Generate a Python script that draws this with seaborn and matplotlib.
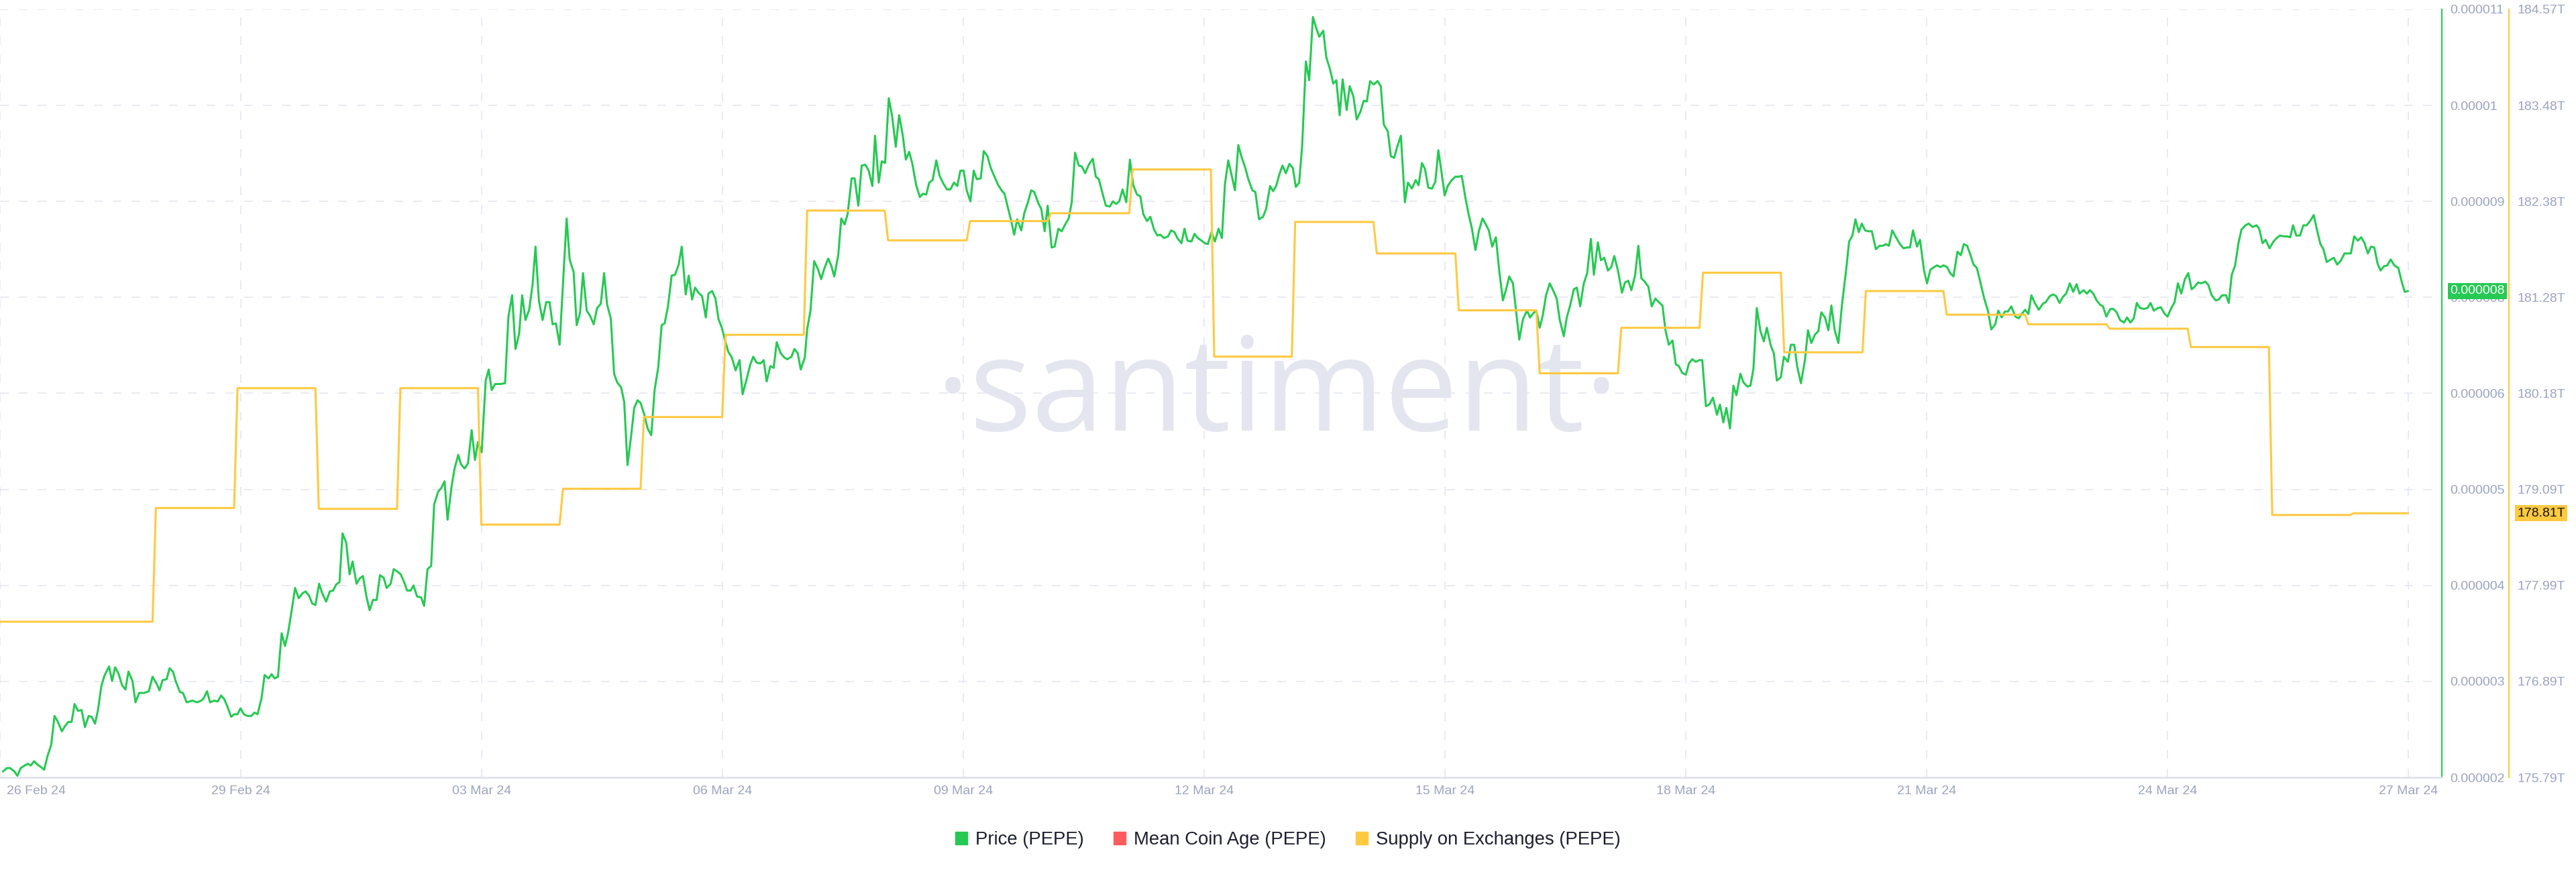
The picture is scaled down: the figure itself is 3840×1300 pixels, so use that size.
import matplotlib
matplotlib.use("Agg")
import matplotlib.pyplot as plt
import matplotlib.dates as mdates
import matplotlib.transforms as mtransforms
from matplotlib.patches import Patch
import seaborn as sns
import numpy as np
import pandas as pd

start = pd.Timestamp("2024-02-26")

# hours since 26 Feb 24 00:00
price_hours = [
    0.9, 2.1, 3.0, 4.3, 5.2, 6.2, 7.4, 8.3, 9.2, 10.2,
    11.2, 12.3, 13.2, 14.2, 15.3, 16.3, 17.2, 18.5, 19.4, 20.4,
    21.4, 22.3, 23.3, 24.4, 25.4, 26.5, 27.4, 28.4, 29.3, 30.3,
    31.2, 32.6, 33.5, 34.4, 35.4, 36.5, 37.5, 38.4, 39.6, 40.5,
    41.6, 43.1, 44.5, 45.6, 46.8, 47.7, 48.6, 49.8, 50.7, 51.7,
    52.6, 53.8, 54.7, 55.8, 57.5, 58.9, 60.2, 60.9, 61.9, 62.8,
    64.0, 65.1, 66.1, 67.0, 68.0, 69.1, 70.0, 71.0, 71.9, 72.9,
    74.0, 75.1, 76.1, 77.0, 78.2, 79.1, 80.3, 81.2, 82.1, 83.1,
    84.2, 85.2, 86.1, 87.1, 88.2, 89.3, 90.5, 91.4, 92.4, 93.3,
    94.3, 95.4, 96.3, 97.5, 98.6, 99.6, 100.5, 101.5, 102.4, 103.5,
    104.5, 105.4, 106.6, 107.5, 108.5, 109.6, 110.5, 111.5, 112.6, 113.6,
    114.7, 115.6, 116.8, 117.7, 118.9, 119.8, 120.8, 121.7, 122.8, 123.6,
    124.7, 125.9, 126.8, 127.8, 128.9, 129.8, 131.0, 131.9, 132.9, 133.8,
    135.0, 135.9, 137.0, 137.8, 138.9, 139.9, 141.0, 142.0, 142.9, 144.0,
    145.2, 146.1, 147.0, 148.0, 149.6, 151.0, 152.0, 153.1, 154.1, 155.2,
    156.1, 157.1, 158.2, 159.2, 160.1, 161.1, 162.2, 163.3, 164.3, 165.2,
    166.2, 167.3, 168.2, 169.4, 170.3, 171.5, 172.4, 173.4, 174.3, 175.4,
    176.4, 177.5, 178.5, 179.6, 180.6, 181.5, 182.6, 183.6, 184.5, 185.7,
    186.6, 187.6, 188.7, 189.6, 190.6, 191.5, 192.7, 193.6, 194.7, 195.7,
    196.8, 197.8, 198.7, 199.7, 200.8, 201.8, 202.9, 203.8, 205.0, 205.9,
    206.9, 207.8, 208.8, 209.9, 211.0, 211.8, 212.9, 213.9, 214.8, 215.8,
    216.7, 217.7, 218.8, 219.9, 221.1, 222.0, 223.1, 224.3, 225.2, 226.2,
    227.3, 228.3, 229.2, 230.3, 231.3, 232.2, 233.4, 234.5, 235.4, 236.6,
    237.5, 238.5, 239.4, 240.6, 241.3, 242.3, 243.4, 244.5, 245.5, 246.4,
    247.6, 248.5, 249.4, 250.6, 251.5, 252.5, 253.4, 254.6, 255.5, 256.6,
    257.6, 258.7, 259.7, 260.8, 261.6, 262.7, 263.6, 264.6, 265.7, 266.7,
    267.8, 268.8, 269.9, 270.8, 271.8, 272.7, 273.9, 275.0, 275.9, 276.9,
    277.8, 278.8, 279.9, 280.9, 282.0, 283.1, 284.1, 285.2, 286.2, 287.1,
    288.1, 289.0, 290.1, 291.1, 292.0,
    293.2, 294.1, 295.2, 296.2, 297.3, 298.3, 299.4, 300.3, 301.3, 302.2,
    303.2, 304.1, 305.3, 306.2, 307.3, 308.3, 309.2, 310.4, 311.3, 312.3,
    313.2, 314.4, 315.3, 316.4, 317.4, 318.3, 319.5, 320.4, 321.4, 322.5,
    323.4, 324.4, 325.5, 326.7, 327.6, 328.5, 329.7, 330.6, 331.8, 332.7,
    333.7, 334.6, 335.6, 336.7, 337.8, 338.8, 339.9, 340.9, 341.8, 342.9,
    343.9, 345.0, 346.0, 346.9, 348.0, 349.2, 350.1, 351.1, 352.0, 353.2,
    354.1, 355.0, 356.2, 357.1, 358.1, 359.2, 360.2, 361.1, 362.2, 363.2,
    364.3, 365.3, 366.2, 367.2, 368.3, 369.2, 370.2, 371.1, 372.3, 373.2,
    374.4, 375.3, 376.4, 377.6, 378.5, 379.7, 380.6, 381.5, 382.5, 383.4,
    384.4, 385.5, 386.5, 387.4, 388.4, 389.3, 390.4, 391.4, 392.5, 393.5,
    394.4, 395.6, 396.5, 397.6, 398.6, 399.5, 400.5, 401.4, 402.6, 403.5,
    404.6, 405.6, 406.7, 407.7, 408.6, 409.6, 410.7, 411.8, 412.8, 413.7,
    414.9, 415.8, 416.8, 417.7, 418.8, 420.0, 420.9, 422.1, 423.2, 424.1,
    425.1, 426.0, 427.0, 428.1, 429.1, 430.0, 431.0, 431.9, 432.8, 434.0,
    435.1, 436.2,
    437.0, 438.1, 439.1, 440.0, 441.1, 442.1, 443.2, 444.2, 445.1, 446.1,
    447.2, 448.2, 449.3, 450.2, 451.2, 452.3, 453.3, 454.2, 455.3, 456.5,
    457.4, 458.4, 459.3, 460.3, 461.2, 462.2, 463.3, 464.4, 465.4, 466.3,
    467.5, 468.4, 469.4, 470.5, 471.4, 472.4, 473.5, 474.5, 475.6, 476.5,
    477.7, 478.6, 479.6, 480.7, 481.7, 482.6, 483.7, 484.9, 485.8, 486.8,
    487.7, 488.8, 489.8, 490.7, 491.7, 492.8, 493.8, 494.9, 495.9, 497.0,
    497.9, 498.9, 500.0, 501.0, 501.9, 502.9, 504.0, 504.9, 505.9, 507.0,
    508.0, 508.9, 510.0, 511.0, 512.1, 513.3, 514.2, 515.2, 516.1, 517.2,
    518.2, 519.1, 520.3, 521.2, 522.4, 523.3, 524.2, 525.2, 526.3, 527.3,
    528.2, 529.4, 530.3, 531.2, 532.4, 533.3, 534.5, 535.4, 536.4, 537.3,
    538.4, 539.6, 540.5, 541.5, 542.6, 543.6, 544.5, 545.6, 546.6, 547.5,
    548.5, 549.6, 550.7, 551.9, 552.8, 553.8, 554.7, 555.7, 556.6, 557.6,
    558.5, 559.6, 560.8, 561.9, 562.9, 563.8, 564.7, 565.7, 566.8, 568.0,
    569.1, 570.0, 571.0, 571.9, 573.1, 574.0, 575.2, 576.1, 577.1, 578.2,
    579.1, 580.1, 581.0,
    582.1, 583.0, 584.0, 585.2, 586.2, 587.1, 588.1, 589.1, 590.0, 591.0,
    592.0, 593.2, 594.3, 595.3, 596.5, 597.4, 598.4, 599.4, 600.3, 601.3,
    602.5, 603.5, 604.4, 605.4, 606.4, 607.3, 608.3, 609.5, 610.7, 611.6,
    612.8, 613.8, 614.7, 615.7, 616.7, 617.7, 618.8, 619.8, 620.8, 621.7,
    622.9, 623.9, 624.8, 625.8, 626.8, 627.8, 628.7, 629.7, 630.9, 631.8,
    632.8, 633.8, 635.0, 635.9, 636.9, 637.9, 638.8, 639.8, 641.0, 642.0,
    642.9, 643.9, 645.1, 646.0, 647.0, 648.0, 649.0, 650.1, 651.1, 652.1,
    653.2, 654.2, 655.2, 656.1, 657.1, 658.1, 659.3, 660.2, 661.2, 662.4,
    663.3, 664.3, 665.5, 666.3, 667.2, 668.2, 669.2, 670.1, 671.3, 672.3,
    673.4, 674.6, 675.4, 676.4, 677.3, 678.5, 679.5, 680.6, 681.6, 682.8,
    683.8, 684.7, 685.5, 686.5, 687.6, 688.6, 689.6, 690.8, 691.7, 692.7,
    693.7, 694.6, 695.6, 696.8, 697.7, 698.7, 699.7, 700.9, 701.8, 702.8,
    703.8, 704.9, 705.9, 706.9, 707.9, 708.8, 709.8, 710.8, 711.7, 712.7,
    713.7, 714.7, 715.8, 717.0, 718.0, 718.9, 719.9,
]

# PEPE price in millionths of a dollar
price_micro = [
    2.07, 2.11, 2.11, 2.07, 2.02, 2.11, 2.14, 2.16, 2.14, 2.19,
    2.15, 2.12, 2.09, 2.25, 2.38, 2.72, 2.66, 2.54, 2.60, 2.65,
    2.65, 2.86, 2.78, 2.79, 2.59, 2.72, 2.71, 2.63, 2.79, 3.07,
    3.19, 3.30, 3.13, 3.29, 3.22, 3.08, 3.03, 3.24, 3.13, 2.88,
    2.99, 2.99, 3.01, 3.18, 3.10, 3.02, 3.14, 3.15, 3.28, 3.24,
    3.12, 3.00, 2.99, 2.88, 2.90, 2.88, 2.90, 2.93, 3.01, 2.88,
    2.90, 2.89, 2.96, 2.92, 2.83, 2.71, 2.74, 2.74, 2.81, 2.74,
    2.72, 2.72, 2.76, 2.74, 2.93, 3.20, 3.16, 3.21, 3.16, 3.18,
    3.69, 3.54, 3.69, 3.93, 4.22, 4.10, 4.16, 4.18, 4.13, 4.04,
    4.02, 4.27, 4.16, 4.06, 4.18, 4.19, 4.26, 4.29, 4.86, 4.75,
    4.38, 4.53, 4.27, 4.33, 4.36, 4.11, 3.96, 4.08, 4.08, 4.37,
    4.34, 4.22, 4.27, 4.44, 4.41, 4.38, 4.29, 4.19, 4.19, 4.25,
    4.12, 4.11, 4.01, 4.44, 4.48, 5.20, 5.35, 5.39, 5.47, 5.02,
    5.41, 5.62, 5.78, 5.67, 5.62, 5.68, 6.07, 5.72, 5.93, 5.81,
    6.65, 6.78, 6.54, 6.61, 6.61, 6.62, 7.40, 7.65, 7.02, 7.20,
    7.65, 7.36, 7.48, 7.77, 8.22, 7.59, 7.36, 7.57, 7.57, 7.31,
    7.32, 7.07, 7.71, 8.55, 8.07, 7.92, 7.30, 7.44, 7.91, 7.47,
    7.41, 7.31, 7.50, 7.55, 7.91, 7.54, 7.38, 6.73, 6.63, 6.57,
    6.40, 5.66, 6.01, 6.33, 6.42, 6.39, 6.24, 6.09, 6.01, 6.54,
    6.81, 7.30, 7.32, 7.52, 7.88, 7.89, 8.01, 8.22, 7.66, 7.88,
    7.60, 7.74, 7.68, 7.64, 7.39, 7.67, 7.70, 7.61, 7.37, 7.27,
    7.13, 6.99, 6.92, 6.77, 6.89, 6.49, 6.65, 6.84, 6.93, 6.86,
    6.85, 6.89, 6.64, 6.82, 6.80, 7.10, 6.97, 6.92, 6.90, 6.93,
    7.02, 6.97, 6.78, 6.92, 7.25, 7.47, 8.05, 7.96, 7.84, 7.96,
    8.08, 8.00, 7.87, 8.12, 8.55, 8.48, 8.60, 9.02, 9.02, 8.70,
    9.17, 9.18, 9.11, 8.93, 9.52, 8.97, 9.22, 9.20, 9.96, 9.75,
    9.39, 9.76, 9.52, 9.24, 9.33, 9.20, 8.94, 8.80, 8.84, 8.83,
    8.97, 9.00, 9.23, 9.05, 8.96, 8.89, 8.89, 8.97, 8.93, 9.11,
    9.11, 8.88, 8.75, 9.11, 9.01,
    9.02, 9.34, 9.28, 9.14, 9.04, 8.95, 8.88, 8.84, 8.68, 8.54,
    8.36, 8.54, 8.41, 8.61, 8.74, 8.88, 8.86, 8.73, 8.66, 8.40,
    8.70, 8.21, 8.22, 8.43, 8.40, 8.47, 8.55, 8.74, 9.32, 9.17,
    9.16, 9.08, 9.18, 9.25, 9.04, 9.01, 8.83, 8.70, 8.69, 8.75,
    8.72, 8.75, 8.89, 8.74, 9.24, 8.94, 8.83, 8.81, 8.60, 8.52,
    8.57, 8.42, 8.35, 8.36, 8.32, 8.34, 8.41, 8.39, 8.32, 8.26,
    8.43, 8.29, 8.28, 8.37, 8.32, 8.29, 8.26, 8.25, 8.39, 8.28,
    8.43, 8.32, 8.95, 9.23, 9.04, 8.88, 9.41, 9.28, 9.14, 9.01,
    8.88, 8.86, 8.54, 8.57, 8.66, 8.93, 8.87, 8.93, 9.07, 9.17,
    9.08, 9.19, 9.14, 8.92, 8.97, 9.41, 10.39, 10.17, 10.91, 10.78,
    10.68, 10.75, 10.44, 10.30, 10.13, 10.17, 9.76, 10.18, 9.82, 10.10,
    9.98, 9.71, 9.80, 9.93, 9.92, 10.16, 10.12, 10.16, 10.10, 9.65,
    9.57, 9.28, 9.26, 9.39, 9.52, 8.74, 8.97, 8.90, 9.00, 8.94,
    9.20, 9.13, 8.91, 8.90, 8.98, 9.35, 9.08, 8.82, 8.93, 9.00,
    9.04, 9.04,
    9.05, 8.79, 8.59, 8.44, 8.18, 8.40, 8.55, 8.48, 8.41, 8.22,
    8.33, 7.94, 7.59, 7.71, 7.87, 7.79, 7.44, 7.13, 7.37, 7.47,
    7.39, 7.44, 7.47, 7.27, 7.41, 7.65, 7.79, 7.70, 7.61, 7.36,
    7.17, 7.39, 7.53, 7.72, 7.74, 7.52, 7.79, 7.91, 8.31, 7.89,
    8.27, 8.06, 8.09, 7.94, 7.98, 8.11, 7.94, 7.68, 7.80, 7.82,
    7.71, 7.88, 8.23, 7.85, 7.81, 7.75, 7.52, 7.61, 7.57, 7.53,
    7.24, 7.07, 7.12, 6.84, 6.82, 6.74, 6.72, 6.85, 6.90, 6.87,
    6.89, 6.89, 6.35, 6.37, 6.45, 6.25, 6.37, 6.16, 6.33, 6.09,
    6.59, 6.48, 6.73, 6.63, 6.58, 6.59, 6.79, 7.50, 7.23, 7.11,
    7.27, 7.06, 6.97, 6.65, 6.69, 6.93, 6.87, 7.07, 7.07, 6.81,
    6.62, 6.89, 7.24, 7.09, 7.19, 7.23, 7.45, 7.39, 7.24, 7.53,
    7.24, 7.09, 7.55, 7.94, 8.28, 8.35, 8.54, 8.39, 8.49, 8.41,
    8.40, 8.40, 8.19, 8.23, 8.23, 8.25, 8.23, 8.41, 8.33, 8.25,
    8.20, 8.21, 8.21, 8.41, 8.22, 8.30, 7.94, 7.79, 7.95, 7.98,
    8.00, 7.98, 8.00,
    7.98, 7.91, 7.87, 8.16, 8.12, 8.25, 8.23, 8.12, 8.01, 7.97,
    7.81, 7.61, 7.47, 7.25, 7.31, 7.47, 7.39, 7.46, 7.46, 7.52,
    7.40, 7.38, 7.43, 7.48, 7.43, 7.65, 7.56, 7.48, 7.55, 7.57,
    7.64, 7.66, 7.64, 7.56, 7.63, 7.67, 7.79, 7.69, 7.78, 7.67,
    7.71, 7.67, 7.71, 7.67, 7.59, 7.54, 7.52, 7.40, 7.49, 7.49,
    7.45, 7.36, 7.33, 7.39, 7.33, 7.38, 7.56, 7.50, 7.49, 7.50,
    7.56, 7.47, 7.50, 7.51, 7.44, 7.40, 7.49, 7.57, 7.79, 7.67,
    7.84, 7.91, 7.72, 7.75, 7.80, 7.79, 7.81, 7.77, 7.65, 7.59,
    7.60, 7.65, 7.65, 7.56, 7.89, 8.00, 8.26, 8.42, 8.47, 8.49,
    8.45, 8.47, 8.43, 8.26, 8.30, 8.20, 8.27, 8.32, 8.35, 8.34,
    8.34, 8.33, 8.47, 8.35, 8.35, 8.47, 8.47, 8.53, 8.59, 8.41,
    8.25, 8.19, 8.04, 8.07, 8.09, 8.01, 8.05, 8.14, 8.14, 8.14,
    8.34, 8.29, 8.33, 8.26, 8.14, 8.22, 8.21, 8.02, 7.94, 7.99,
    8.00, 8.07, 8.00, 7.97, 7.81, 7.69, 7.70,
]

# supply on exchanges, trillions of PEPE; one level per day
supply_levels = [
    177.57, 178.87, 180.24, 178.86, 180.24, 178.68, 179.09, 179.91, 180.85, 182.27,
    181.93, 182.15, 182.24, 182.74, 180.60, 182.14, 181.78, 181.13, 180.41, 180.93,
    181.56, 180.65, 181.35, 181.08, 180.97, 180.92, 180.71, 178.79, 178.81,
]
# hour at which each level (except the last) ends
supply_change_hours = [
    45.6, 70.0, 94.3, 118.7, 142.9, 167.3, 191.5, 215.9, 240.3, 264.5,
    289.0, 313.2, 337.6, 362.0, 386.2, 410.6, 435.1, 459.3, 483.7, 508.1,
    532.4, 556.8, 581.0, 605.4, 629.7, 654.0, 678.3, 702.6,
]

price_tick_labels = ["0.000002", "0.000003", "0.000004", "0.000005", "0.000006",
                     "0.000008", "0.000009", "0.00001", "0.000011"]
supply_tick_labels = ["175.79T", "176.89T", "177.99T", "179.09T", "180.18T",
                      "181.28T", "182.38T", "183.48T", "184.57T"]
date_ticks = pd.date_range("2024-02-26", "2024-03-27", freq="3D")

GREEN = "#26c953"
YELLOW = "#ffc940"
RED = "#ff5d5d"
GRID = "#e4e7f0"
TICK = "#9aa4bf"

price = pd.DataFrame({
    "time": start + pd.to_timedelta(price_hours, unit="h"),
    "price": np.array(price_micro) * 1e-6,
})

# flat daily levels joined by one-hour ramps
sh = [0.0]
sv = [supply_levels[0]]
for i, end in enumerate(supply_change_hours):
    sh += [end, end + 1.0]
    sv += [supply_levels[i], supply_levels[i + 1]]
sh.append(price_hours[-1])
sv.append(supply_levels[-1])
supply = pd.DataFrame({"time": start + pd.to_timedelta(sh, unit="h"), "supply": sv})

sns.set_style("white")
plt.rcParams["font.family"] = ["Liberation Sans", "DejaVu Sans"]

fig = plt.figure(figsize=(38.4, 13), dpi=100)
ax = fig.add_axes([0, 1 - 1159 / 1300, 3640 / 3840, (1159 - 14) / 1300])
ax2 = ax.twinx()

ax.text(0.523, 0.4515, "\u00b7santiment\u00b7", transform=ax.transAxes, ha="center",
        va="baseline", fontsize=140, family="Open Sans", color="#e3e6ef", zorder=1)

sns.lineplot(data=price, x="time", y="price", ax=ax, color=GREEN, lw=2.2,
             estimator=None, sort=False, legend=False, zorder=3)
sns.lineplot(data=supply, x="time", y="supply", ax=ax2, color=YELLOW, lw=2.2,
             estimator=None, sort=False, legend=False)

ax.set_xlim(start, start + pd.Timedelta(hours=730))
ax.set_xticks(date_ticks)
ax.xaxis.set_major_formatter(mdates.DateFormatter("%d %b %y"))
ax.set_xlabel("")
ax.set_ylabel("")
ax2.set_ylabel("")

ax.set_ylim(2e-6, 11e-6)
ax.set_yticks(np.linspace(2e-6, 11e-6, 9))
ax.set_yticklabels(price_tick_labels)
ax.yaxis.tick_right()
ax2.set_ylim(175.79, 184.57)
ax2.set_yticks(np.linspace(175.79, 184.57, 9))
ax2.set_yticklabels(supply_tick_labels)

ax.set_axisbelow(True)
ax.grid(True, color=GRID, lw=1.2, ls=(0, (7.8, 9)))
ax2.grid(False)

ax.tick_params(axis="x", length=0, pad=9, labelcolor=TICK, labelsize=14)
ax.tick_params(axis="y", length=0, pad=8.5, labelcolor=TICK, labelsize=14)
ax2.tick_params(axis="y", length=0, pad=9, labelcolor=TICK, labelsize=14)

for s in ["top", "left"]:
    ax.spines[s].set_visible(False)
    ax2.spines[s].set_visible(False)
ax2.spines["bottom"].set_visible(False)
ax.spines["bottom"].set_color("#dfe3ec")
ax.spines["bottom"].set_linewidth(2)
ax.spines["right"].set_color(GREEN)
ax.spines["right"].set_linewidth(1.5)
ax2.spines["right"].set_color(YELLOW)
ax2.spines["right"].set_linewidth(1.5)
ax2.spines["right"].set_position(("outward", 72))

# first date label sits inside the plot edge
t0 = ax.xaxis.get_major_ticks()[0]
t0.label1.set_horizontalalignment("left")
t0.label1.set_transform(t0.label1.get_transform()
                        + mtransforms.ScaledTranslation(0.1, 0, fig.dpi_scale_trans))

# last-value badges on the two axes
last_price = price["price"].iloc[-1]
ax.text(1.0033, last_price, f"{last_price:.6f}",
        transform=mtransforms.blended_transform_factory(ax.transAxes, ax.transData),
        ha="left", va="center", fontsize=14, color="white", zorder=6,
        bbox=dict(boxstyle="square,pad=0.18", fc=GREEN, ec="none"))
last_supply = supply_levels[-1]
ax2.text(1.0308, last_supply, f"{last_supply:.2f}T",
         transform=mtransforms.blended_transform_factory(ax2.transAxes, ax2.transData),
         ha="left", va="center", fontsize=14, color="#111111", zorder=6,
         bbox=dict(boxstyle="square,pad=0.18", fc=YELLOW, ec="none"))

handles = [Patch(color=GREEN, label="Price (PEPE)"),
           Patch(color=RED, label="Mean Coin Age (PEPE)"),
           Patch(color=YELLOW, label="Supply on Exchanges (PEPE)")]
fig.legend(handles=handles, loc="center", bbox_to_anchor=(0.5, 1 - 1252 / 1300), ncol=3,
           frameon=False, fontsize=19.8, handlelength=0.65, handleheight=0.65,
           handletextpad=0.45, columnspacing=1.6, labelcolor="#1b1e2e")

fig.savefig("out.png", dpi=100, facecolor="white")
